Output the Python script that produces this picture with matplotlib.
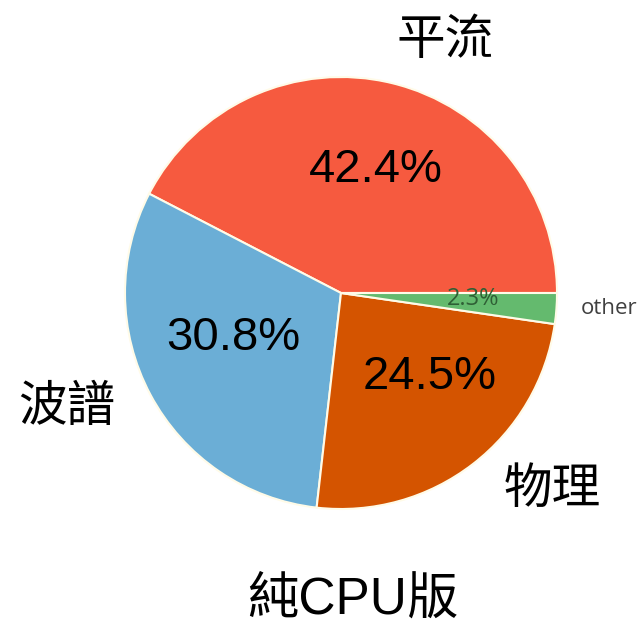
import matplotlib.pyplot as plt

plt.rcParams['font.family'] = ['Liberation Sans', 'Noto Sans CJK TC', 'DejaVu Sans']

# Data
labels = ['平流', '波譜', '物理', 'other']
shares = [42.4, 30.8, 24.5, 2.3]
title = '純CPU版'

colors = ['#f65a3f', '#6baed6', '#d45400', '#64ba6e']
# label / percentage positions (pie radius = 1)
label_pos = [(0.48, 1.17), (-1.27, -0.53), (0.98, -0.91), (1.24, -0.07)]
pct_pos = [(0.16, 0.57), (-0.50, -0.21), (0.41, -0.39), (0.61, -0.03)]

fig = plt.figure(figsize=(6.38, 6.28), dpi=100)
ax = fig.add_axes([125 / 638, 119 / 628, 432 / 638, 432 / 628])

wedges, texts, autotexts = ax.pie(
    shares, labels=labels, colors=colors, startangle=0, counterclock=True,
    autopct='%1.1f%%', radius=1,
    wedgeprops=dict(edgecolor='#fffbe8', linewidth=1.5),
)
ax.set_xlim(-1, 1)
ax.set_ylim(-1, 1)
ax.set_aspect('equal')

for i, t in enumerate(texts):
    t.set_position(label_pos[i])
    t.set_ha('center')
    t.set_va('center')
    t.set_fontsize(35)
    t.set_family(['Noto Sans CJK TC', 'DejaVu Sans'])
for i, t in enumerate(autotexts):
    t.set_position(pct_pos[i])
    t.set_ha('center')
    t.set_va('center')
    t.set_fontsize(34)
    t.set_color('black')

# the small slice is labelled in a smaller, softer style
texts[3].set_fontsize(16)
texts[3].set_family(['Open Sans', 'DejaVu Sans'])
texts[3].set_color('#404040')
autotexts[3].set_fontsize(17)
autotexts[3].set_family(['Open Sans', 'DejaVu Sans'])
autotexts[3].set_color('#2f5f35')

fig.text(353 / 638, 1 - 600 / 628, title, ha='center', va='center', fontsize=37,
         family=['Liberation Sans', 'Noto Sans CJK TC'])

fig.savefig('out.png', dpi=100)
